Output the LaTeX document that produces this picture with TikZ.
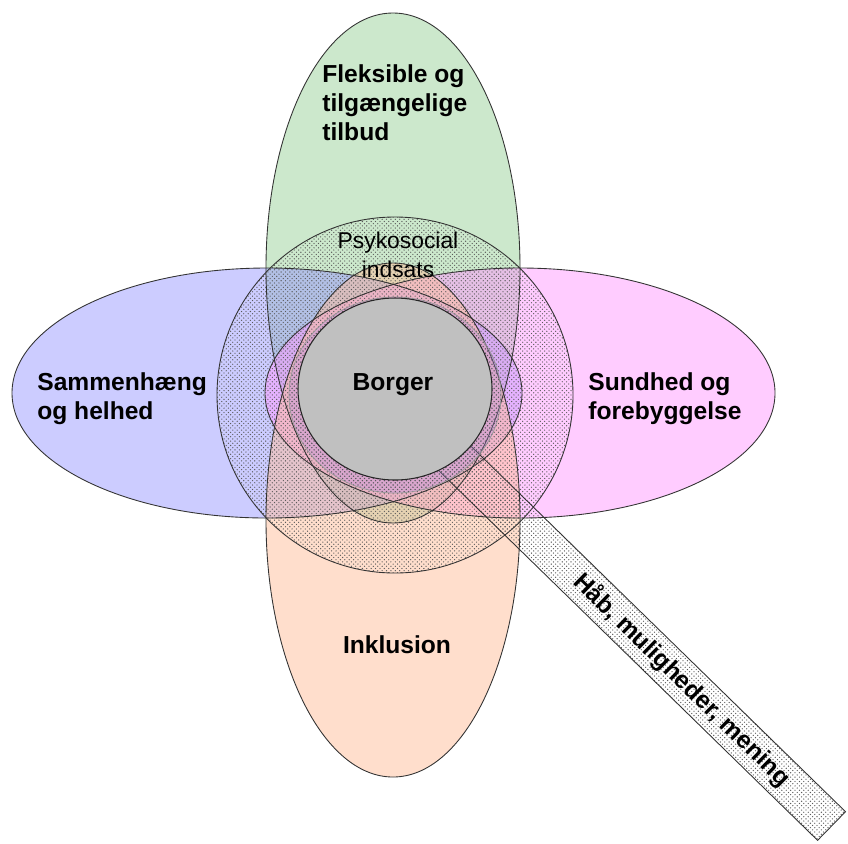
\documentclass[tikz,border=0pt]{standalone}
\usepackage{fontspec}
\setmainfont{Liberation Sans}
\usetikzlibrary{patterns}
\definecolor{greenbase}{RGB}{153,209,153}
\definecolor{bluebase}{RGB}{153,153,255}
\definecolor{pinkbase}{RGB}{255,153,255}
\definecolor{orangebase}{RGB}{255,189,153}
\definecolor{ringbase}{RGB}{175,135,225}
\definecolor{borgergray}{RGB}{192,192,192}
\definecolor{dotgray}{RGB}{90,90,90}
\pgfdeclarepatternformonly{fine dots}{\pgfqpoint{-0.5pt}{-0.5pt}}{\pgfqpoint{3pt}{3pt}}{\pgfqpoint{2.5pt}{2.5pt}}
{
  \pgfpathcircle{\pgfqpoint{0pt}{0pt}}{0.38pt}
  \pgfpathcircle{\pgfqpoint{1.25pt}{1.25pt}}{0.38pt}
  \pgfusepath{fill}
}
\tikzset{every node/.style={inner sep=0pt}}
\tikzstyle{petal} = [fill opacity=0.5]
\tikzstyle{rim} = [draw=black!80, line width=0.5pt]
\tikzstyle{dotfill} = [pattern=fine dots, pattern color=dotgray]
\tikzstyle{petaltext} = [font=\bfseries\fontsize{14}{16.5}\selectfont, align=left]
\tikzstyle{psytext} = [font=\fontsize{13}{16}\selectfont, align=center]

\begin{document}
\begin{tikzpicture}[x=0.02cm, y=-0.02cm]
    \useasboundingbox (0,0) rectangle (848,843);
    \coordinate (hub) at (395,395);
    \coordinate (barstart) at (395,400);
    \fill [petal, greenbase] (393,268) ellipse [x radius=127, y radius=255];
    \fill [petal, bluebase] (267,393) ellipse [x radius=255, y radius=125];
    \fill [petal, pinkbase] (520,393) ellipse [x radius=255, y radius=125];
    \fill [petal, orangebase] (393,520) ellipse [x radius=127, y radius=257];
    \fill [dotfill] (hub) circle [radius=178];
    \draw [rim] (393,268) ellipse [x radius=127, y radius=255];
    \draw [rim] (267,393) ellipse [x radius=255, y radius=125];
    \draw [rim] (520,393) ellipse [x radius=255, y radius=125];
    \draw [rim] (393,520) ellipse [x radius=127, y radius=257];
    \draw [rim] (hub) circle [radius=178];
    \begin{scope}[shift={(barstart)}, rotate=-44.3]
        \draw [rim, dotfill] (80,-20) rectangle (610,20);
    \end{scope}
    \fill [ringbase, fill opacity=0.3] (hub) ellipse [x radius=106, y radius=98];
    \filldraw [dotfill, draw=black!40] (hub) ellipse [x radius=106, y radius=98];
    \filldraw [fill=borgergray, draw=black!85, line width=0.6pt] (395,389) ellipse [x radius=97, y radius=91];
    \node [petaltext, anchor=north west] (flex) at (322,64) {Fleksible og\\tilgængelige\\tilbud};
    \node [psytext, anchor=north] (psyk) at (398,232) {Psykosocial\\indsats};
    \node [petaltext, anchor=north west] (samm) at (37,372) {Sammenhæng\\og helhed};
    \node [petaltext, anchor=north west] (sund) at (588,372) {Sundhed og\\forebyggelse};
    \node [petaltext, anchor=base] (borger) at (393,390) {Borger};
    \node [petaltext, anchor=base] (inkl) at (397,653) {Inklusion};
    \node [petaltext, rotate=-44.3] (haab) at (682,680) {Håb, muligheder, mening};
\end{tikzpicture}
\end{document}
